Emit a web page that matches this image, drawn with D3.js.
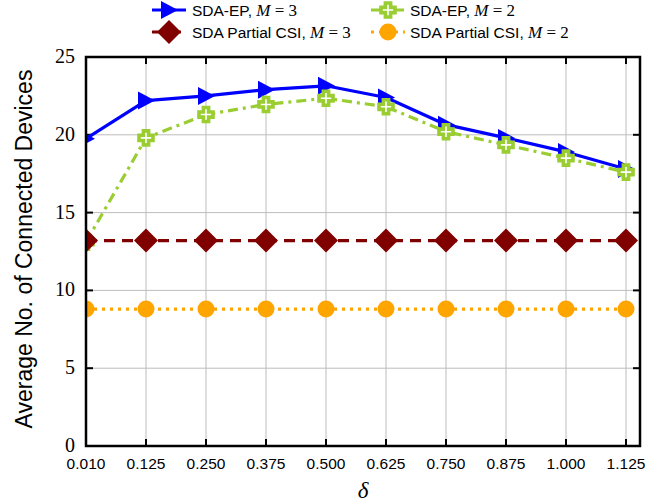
<!DOCTYPE html>
<html><head><meta charset="utf-8">
<script src="https://cdn.jsdelivr.net/npm/d3@7"></script>
<style>body{margin:0;background:#fff}</style>
</head><body>
<svg id="c" width="672" height="503"></svg>
<script>
const categories = ["0.010","0.125","0.250","0.375","0.500","0.625","0.750","0.875","1.000","1.125"];
const yTicks = [0,5,10,15,20,25];
const sdaEpM3 = [19.75,22.2,22.5,22.9,23.15,22.4,20.65,19.8,18.9,17.8];
const sdaEpM2 = [13.1,19.8,21.3,21.95,22.35,21.8,20.2,19.35,18.5,17.6];
const partialM3 = [13.2,13.2,13.2,13.2,13.2,13.2,13.2,13.2,13.2,13.2];
const partialM2 = [8.8,8.8,8.8,8.8,8.8,8.8,8.8,8.8,8.8,8.8];
const seriesNames = ["SDA-EP, ", "SDA-EP, ", "SDA Partial CSI, ", "SDA Partial CSI, "];
const seriesM = ["3","2","3","2"];

const svg = d3.select("#c");
const L = 86, R = 640, T = 57, B = 446;
const x = d3.scaleLinear().domain([0, (R-L)/60]).range([L, R]);
const y = d3.scaleLinear().domain([0, 25]).range([B, T]);

// grid
const g = svg.append("g");
g.selectAll(".vg").data(categories).enter().append("line")
  .attr("x1",(d,i)=>x(i)).attr("x2",(d,i)=>x(i)).attr("y1",T).attr("y2",B)
  .attr("stroke","#bdbdbd").attr("stroke-width",1);
g.selectAll(".hg").data(yTicks).enter().append("line")
  .attr("x1",L).attr("x2",R).attr("y1",d=>y(d)).attr("y2",d=>y(d))
  .attr("stroke","#bdbdbd").attr("stroke-width",1);

// inward ticks
const tl = 7;
categories.forEach((c,i)=>{
  g.append("line").attr("x1",x(i)).attr("x2",x(i)).attr("y1",B).attr("y2",B-tl).attr("stroke","#000").attr("stroke-width",2);
  g.append("line").attr("x1",x(i)).attr("x2",x(i)).attr("y1",T).attr("y2",T+tl).attr("stroke","#000").attr("stroke-width",2);
});
yTicks.forEach(v=>{
  g.append("line").attr("x1",L).attr("x2",L+tl).attr("y1",y(v)).attr("y2",y(v)).attr("stroke","#000").attr("stroke-width",2);
  g.append("line").attr("x1",R).attr("x2",R-tl).attr("y1",y(v)).attr("y2",y(v)).attr("stroke","#000").attr("stroke-width",2);
});

// tick labels
svg.selectAll(".xl").data(categories).enter().append("text")
  .attr("x",(d,i)=>x(i)).attr("y",469).attr("text-anchor","middle")
  .attr("font-family","Liberation Sans, Arial, sans-serif").attr("font-size",15.5)
  .text(d=>d);
svg.selectAll(".yl").data(yTicks).enter().append("text")
  .attr("x",75).attr("y",d=>y(d)+6).attr("text-anchor","end")
  .attr("font-family","Liberation Serif, Times New Roman, serif").attr("font-size",20)
  .text(d=>d);

// axis titles
svg.append("text").attr("x",363).attr("y",498).attr("text-anchor","middle")
  .attr("font-family","Liberation Serif, serif").attr("font-style","italic").attr("font-size",23).text("δ");
svg.append("text").attr("transform","translate(32,249) rotate(-90)").attr("text-anchor","middle")
  .attr("font-family","Liberation Sans, Arial, sans-serif").attr("font-size",23)
  .text("Average No. of Connected Devices");

// clip
svg.append("clipPath").attr("id","clip").append("rect").attr("x",L).attr("y",T).attr("width",R-L).attr("height",B-T);
const plot = svg.append("g").attr("clip-path","url(#clip)");

const styles = [
  {data:sdaEpM3, color:"#0000ff", dash:null, marker:"tri"},
  {data:sdaEpM2, color:"#9acd32", dash:"10,5,3,5", marker:"plus"},
  {data:partialM3, color:"#800000", dash:"11,7", marker:"diamond"},
  {data:partialM2, color:"#ffa500", dash:"3,5", marker:"circle"}
];

function marker(sel, type, color){
  if(type==="tri"){
    sel.append("path").attr("d","M-8,-9 L9,0 L-8,9 Z").attr("fill",color);
  } else if(type==="plus"){
    const a=2.6, b=7;
    sel.append("path").attr("d",`M${-a},${-b} L${a},${-b} L${a},${-a} L${b},${-a} L${b},${a} L${a},${a} L${a},${b} L${-a},${b} L${-a},${a} L${-b},${a} L${-b},${-a} L${-a},${-a} Z`)
      .attr("fill","#fff").attr("stroke",color).attr("stroke-width",3.6);
  } else if(type==="diamond"){
    sel.append("path").attr("d","M0,-12 L12,0 L0,12 L-12,0 Z").attr("fill",color);
  } else {
    sel.append("circle").attr("r",8.5).attr("fill",color);
  }
}

const line = d3.line().x((d,i)=>x(i)).y(d=>y(d));
styles.forEach(s=>{
  plot.append("path").datum(s.data).attr("d",line).attr("fill","none")
    .attr("stroke",s.color).attr("stroke-width",3.2)
    .attr("stroke-dasharray",s.dash).attr("stroke-linejoin","round");
  s.data.forEach((v,i)=>{
    const m = plot.append("g").attr("transform",`translate(${x(i)},${y(v)})`);
    marker(m, s.marker, s.color);
  });
});

// frame
svg.append("rect").attr("x",L).attr("y",T).attr("width",R-L).attr("height",B-T)
  .attr("fill","none").attr("stroke","#000").attr("stroke-width",2.5);

// legend
const legPos = [[152,10,192],[371,10,410],[152,32,192],[371,32,410]];
styles.forEach((s,k)=>{
  const [lx,ly,tx] = legPos[k];
  const lg = svg.append("g");
  lg.append("line").attr("x1",lx).attr("x2",lx+34).attr("y1",ly).attr("y2",ly)
    .attr("stroke",s.color).attr("stroke-width",3.2).attr("stroke-dasharray",s.dash);
  const m = lg.append("g").attr("transform",`translate(${lx+17},${ly})`);
  marker(m, s.marker, s.color);
  const t = lg.append("text").attr("x",tx).attr("y",ly+5.5)
    .attr("font-family","Liberation Sans, Arial, sans-serif").attr("font-size",15.5);
  t.append("tspan").text(seriesNames[k]);
  t.append("tspan").attr("font-family","Liberation Serif, serif").attr("font-style","italic").attr("font-size",17).text("M");
  t.append("tspan").attr("font-family","Liberation Serif, serif").attr("font-size",17).text(" = " + seriesM[k]);
});
</script>
</body></html>
